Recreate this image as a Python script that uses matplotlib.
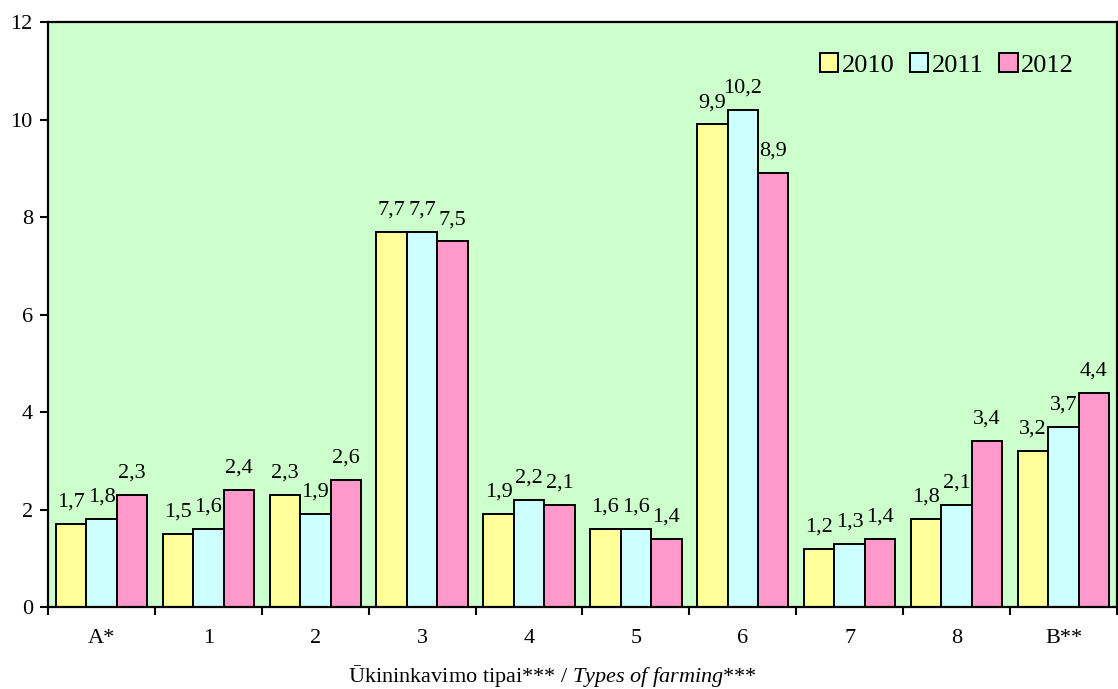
import numpy as np
import matplotlib.pyplot as plt

plt.rcParams['font.family'] = ['Liberation Serif', 'DejaVu Serif']
plt.rcParams['mathtext.fontset'] = 'custom'
plt.rcParams['mathtext.rm'] = 'Liberation Serif'
plt.rcParams['mathtext.it'] = 'Liberation Serif:italic'

# data
categories = ['A*', '1', '2', '3', '4', '5', '6', '7', '8', 'B**']
years = ['2010', '2011', '2012']
v2010 = [1.7, 1.5, 2.3, 7.7, 1.9, 1.6, 9.9, 1.2, 1.8, 3.2]
v2011 = [1.8, 1.6, 1.9, 7.7, 2.2, 1.6, 10.2, 1.3, 2.1, 3.7]
v2012 = [2.3, 2.4, 2.6, 7.5, 2.1, 1.4, 8.9, 1.4, 3.4, 4.4]
colors = ['#FFFF99', '#CCFFFF', '#FF99CC']

fig = plt.figure(figsize=(11.18, 6.89), dpi=100)
ax = fig.add_axes([0.043, 0.119, 0.956, 0.849])
ax.set_facecolor('#CCFFCC')

x = np.arange(len(categories))
w = 0.285
for i, (vals, yr, c) in enumerate(zip([v2010, v2011, v2012], years, colors)):
    pos = x + (i - 1) * w
    ax.bar(pos, vals, w, color=c, edgecolor='black', linewidth=1.4, label=yr)
    for p, v in zip(pos, vals):
        ax.annotate(f'{v:.1f}'.replace('.', ','), (p, v), xytext=(0, 12.5),
                    textcoords='offset points', ha='center', va='baseline',
                    fontsize=16)

ax.set_xlim(-0.5, len(categories) - 0.5)
ax.set_ylim(0, 12)
ax.set_yticks(range(0, 13, 2))
ax.set_xticks(x)
ax.set_xticklabels(categories)
ax.set_xticks(np.arange(len(categories) + 1) - 0.5, minor=True)
ax.tick_params(axis='x', which='major', length=0, pad=16, labelsize=16)
ax.tick_params(axis='x', which='minor', length=6, width=1.5, direction='out')
ax.tick_params(axis='y', length=6, width=1.5, direction='out', labelsize=16, pad=5)
for s in ax.spines.values():
    s.set_linewidth(1.6)

fig.text(553 / 1118, 1 - 676 / 689,
         r'Ūkininkavimo tipai*** / $\mathit{Types\ of\ farming}$***',
         fontsize=16, ha='center', va='center')

ax.legend(loc='upper right', bbox_to_anchor=(0.977, 0.978), ncol=3, frameon=False,
          fontsize=19, handlelength=0.7, handleheight=0.7, handletextpad=0.12,
          columnspacing=0.6, borderaxespad=0.3)

fig.savefig('out.png', dpi=100)
